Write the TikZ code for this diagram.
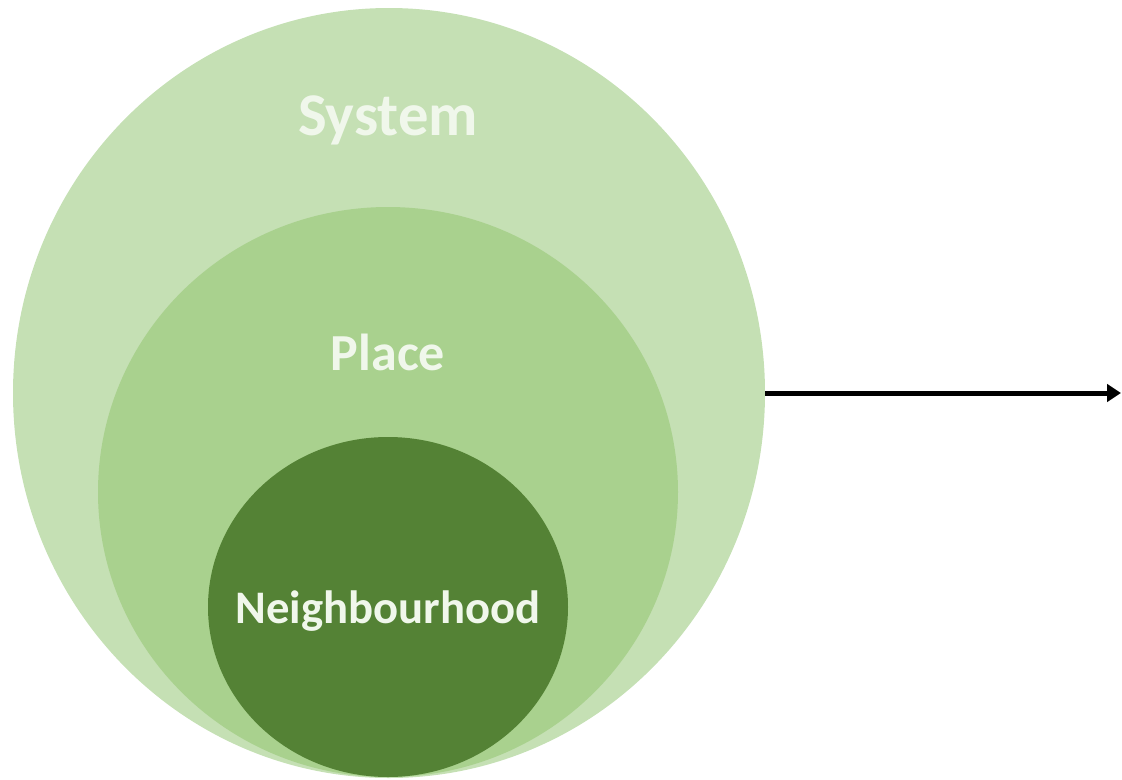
\documentclass[tikz,border=0pt]{standalone}
\usepackage{fontspec}
\setmainfont{Carlito}
\usepackage{tikz}
\usetikzlibrary{shapes,arrows.meta,positioning}
\tikzstyle{ring} = [ellipse, draw=none, inner sep=0pt, text centered]
\tikzstyle{tag} = [text=ltext, inner sep=0pt, anchor=base]
\tikzstyle{line} = [draw, line width=3.75pt, color=black, -{Triangle[length=10.5pt,width=13pt]}]
\definecolor{lgreen}{RGB}{197, 224, 180}
\definecolor{mgreen}{RGB}{169, 209, 142}
\definecolor{dgreen}{RGB}{84, 130, 53}
\definecolor{ltext}{RGB}{240, 247, 235}

\begin{document}
\begin{tikzpicture}[x=0.75pt, y=-0.75pt]
  \useasboundingbox (0,0) rectangle (1122,779);
  \node [ring, fill=lgreen, minimum width=564pt, minimum height=577.5pt] (system) at (389,393) {};
  \node [ring, fill=mgreen, minimum width=435pt, minimum height=427.5pt] (place) at (388,492) {};
  \node [ring, fill=dgreen, minimum width=270pt, minimum height=255pt] (hood) at (388,607) {};

  \node [tag, font=\fontsize{45.5}{52}\selectfont\bfseries] (systemtxt) at (388,135) {System};
  \node [tag, font=\fontsize{39}{46}\selectfont\bfseries] (placetxt) at (388,370) {Place};
  \node [tag, font=\fontsize{35}{42}\selectfont\bfseries] (hoodtxt) at (388,623) {Neighbourhood};

  \coordinate (tip) at (1121,393);
  \path [line] (system.east) -- (tip);
\end{tikzpicture}
\end{document}
